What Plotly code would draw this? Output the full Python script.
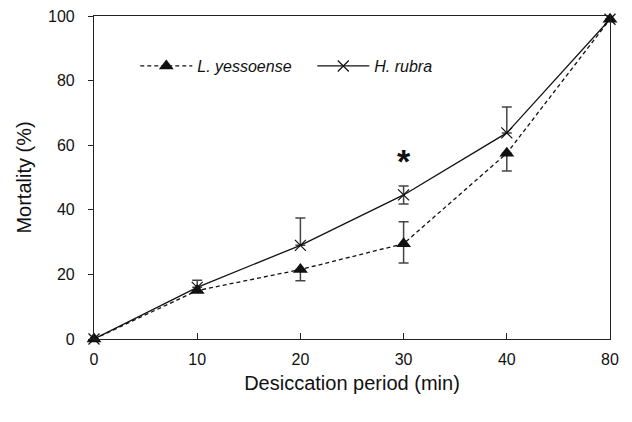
import plotly.graph_objects as go

periods = ["0", "10", "20", "30", "40", "80"]

ly_mean = [0, 15, 21.5, 29.5, 57.5, 99]
ly_err_plus = [0, 0, 0, 6.8, 0, 0]
ly_err_minus = [0, 0, 3.5, 6.0, 5.5, 0]

hr_mean = [0, 16, 29, 44.6, 63.8, 99]
hr_err_plus = [0, 2.2, 8.5, 2.8, 8.0, 0]
hr_err_minus = [0, 0, 0, 2.8, 0, 0]

font_family = "Liberation Sans, Arial, sans-serif"

fig = go.Figure()

fig.add_trace(go.Scatter(
    x=periods, y=hr_mean, name="<i>H. rubra</i>", mode="lines+markers",
    line=dict(color="#111111", width=1.3),
    marker=dict(symbol="x-thin-open", size=11, line=dict(color="#111111", width=1.2)),
    error_y=dict(type="data", symmetric=False, array=hr_err_plus, arrayminus=hr_err_minus,
                 color="#444444", thickness=1.5, width=5),
    cliponaxis=False,
))

fig.add_trace(go.Scatter(
    x=periods, y=ly_mean, name="<i>L. yessoense</i>", mode="lines+markers",
    line=dict(color="#111111", width=1.3, dash="4px,3px"),
    marker=dict(symbol="triangle-up", size=13, color="#111111"),
    error_y=dict(type="data", symmetric=False, array=ly_err_plus, arrayminus=ly_err_minus,
                 color="#444444", thickness=1.5, width=5),
    cliponaxis=False,
))

fig.add_annotation(x=3, y=55, xref="x", yref="y", text="<b>*</b>", showarrow=False,
                   font=dict(size=34, color="#111111", family=font_family),
                   yanchor="middle")

fig.update_layout(
    width=624, height=414,
    margin=dict(l=86, r=22, t=8, b=83, autoexpand=False),
    paper_bgcolor="white", plot_bgcolor="white",
    font=dict(family=font_family, color="#111111", size=16),
    showlegend=True,
    legend=dict(orientation="h", x=0.08, y=0.845, xanchor="left", yanchor="middle",
                traceorder="reversed", font=dict(size=16), bgcolor="rgba(0,0,0,0)",
                itemwidth=52, entrywidth=110, entrywidthmode="pixels"),
    xaxis=dict(
        type="category", range=[0, 5], showgrid=False, zeroline=False,
        showline=True, linecolor="#222222", linewidth=1.2, mirror=True,
        ticks="inside", ticklen=6, tickcolor="#222222", automargin=False,
        title=dict(text="Desiccation period (min)", font=dict(size=20), standoff=8),
        tickfont=dict(size=16), ticklabelstandoff=6, ticklabeloverflow="allow",
    ),
    yaxis=dict(
        range=[0, 100], tickvals=[0, 20, 40, 60, 80, 100], showgrid=False, zeroline=False,
        showline=True, linecolor="#222222", linewidth=1.2, mirror=True,
        ticks="outside", ticklen=5, tickcolor="#222222", automargin=False,
        title=dict(text="Mortality (%)", font=dict(size=20), standoff=10),
        tickfont=dict(size=16), ticklabelstandoff=10, ticklabeloverflow="allow",
    ),
)

fig.write_html("out.html")
